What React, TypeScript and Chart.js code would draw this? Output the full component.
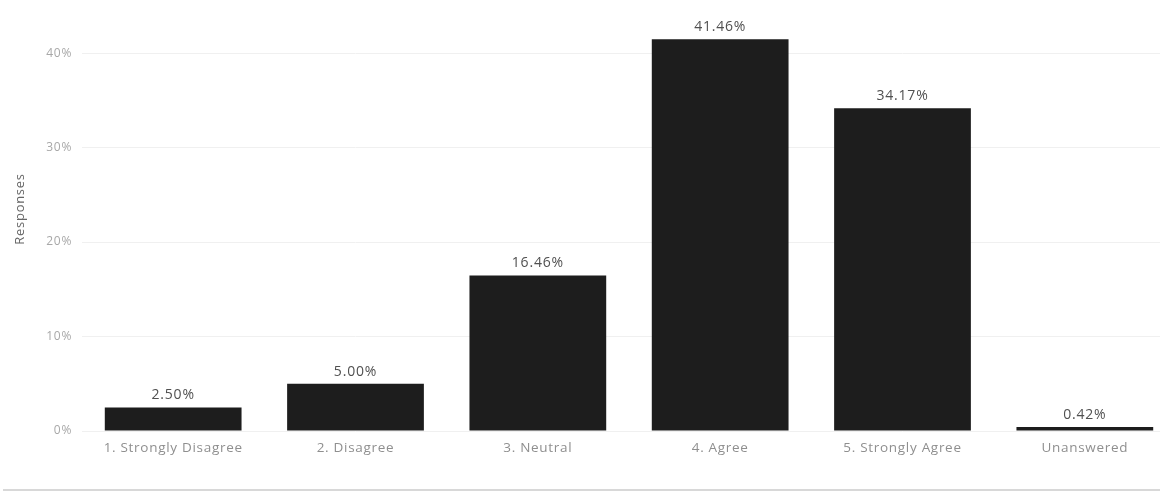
import React, { useEffect, useRef } from "react";
import { Chart, registerables } from "chart.js";

Chart.register(...registerables);

const categories = [
  "1. Strongly Disagree",
  "2. Disagree",
  "3. Neutral",
  "4. Agree",
  "5. Strongly Agree",
  "Unanswered",
];
const responses = [2.5, 5.0, 16.46, 41.46, 34.17, 0.42];
const yTicks = [0, 10, 20, 30, 40];
const yTitle = "Responses";

const FONT = "'Open Sans', sans-serif";

// Wider tracking for all canvas text
const tracking = {
  id: "tracking",
  beforeLayout(chart: any) {
    chart.ctx.letterSpacing = "0.7px";
  },
  beforeDraw(chart: any) {
    chart.ctx.letterSpacing = "0.7px";
  },
};

const valueLabels = {
  id: "valueLabels",
  afterDatasetsDraw(chart: any) {
    const ctx = chart.ctx;
    const meta = chart.getDatasetMeta(0);
    ctx.save();
    ctx.letterSpacing = "0.8px";
    ctx.font = `14px ${FONT}`;
    ctx.fillStyle = "#505050";
    ctx.textAlign = "center";
    ctx.textBaseline = "middle";
    meta.data.forEach((bar: any, i: number) => {
      ctx.fillText(responses[i].toFixed(2) + "%", bar.x, bar.y - 12);
    });
    ctx.restore();
  },
  afterDraw(chart: any) {
    const ctx = chart.ctx;
    ctx.save();
    ctx.letterSpacing = "0.7px";
    ctx.font = `13px ${FONT}`;
    ctx.fillStyle = "#666";
    ctx.textAlign = "center";
    ctx.textBaseline = "middle";
    ctx.translate(20, 209);
    ctx.rotate(-Math.PI / 2);
    ctx.fillText(yTitle, 0, 0);
    ctx.restore();
  },
};

export default function App() {
  const ref = useRef<HTMLCanvasElement>(null);

  useEffect(() => {
    if (!ref.current) return;
    const chart = new Chart(ref.current, {
      type: "bar",
      data: {
        labels: categories,
        datasets: [
          {
            data: responses,
            backgroundColor: "#1d1d1d",
            barPercentage: 1,
            categoryPercentage: 0.75,
          },
        ],
      },
      options: {
        animation: false,
        responsive: false,
        devicePixelRatio: 1,
        layout: { padding: { top: 5, right: 24, left: 0, bottom: 0 } },
        plugins: { legend: { display: false }, tooltip: { enabled: false } },
        scales: {
          x: {
            grid: { display: false, drawTicks: false },
            border: { display: false },
            ticks: {
              color: "#8f8f8f",
              font: { family: FONT, size: 13.5 },
              padding: 9,
              maxRotation: 0,
              autoSkip: false,
            },
            afterFit: (s: any) => {
              s.height = 67;
            },
          },
          y: {
            min: 0,
            max: 43.8,
            grid: { color: "#f0f0f0", drawTicks: false },
            border: { display: false },
            afterBuildTicks: (s: any) => {
              s.ticks = yTicks.map((v) => ({ value: v }));
            },
            ticks: {
              color: "#a8a8a8",
              font: { family: FONT, size: 12 },
              padding: 10,
              callback: (v: any) => v + "%",
            },
            afterFit: (s: any) => {
              s.width = 82;
            },
          },
        },
      },
      plugins: [tracking, valueLabels],
    });
    return () => chart.destroy();
  }, []);

  return (
    <div
      style={{
        position: "fixed",
        left: 0,
        top: 0,
        width: 1200,
        height: 498,
        background: "#fff",
      }}
    >
      <canvas ref={ref} width={1200} height={498} />
      <div
        style={{
          position: "absolute",
          left: 3,
          top: 489,
          width: 1197,
          height: 2,
          background: "#d8d8d8",
        }}
      />
    </div>
  );
}
